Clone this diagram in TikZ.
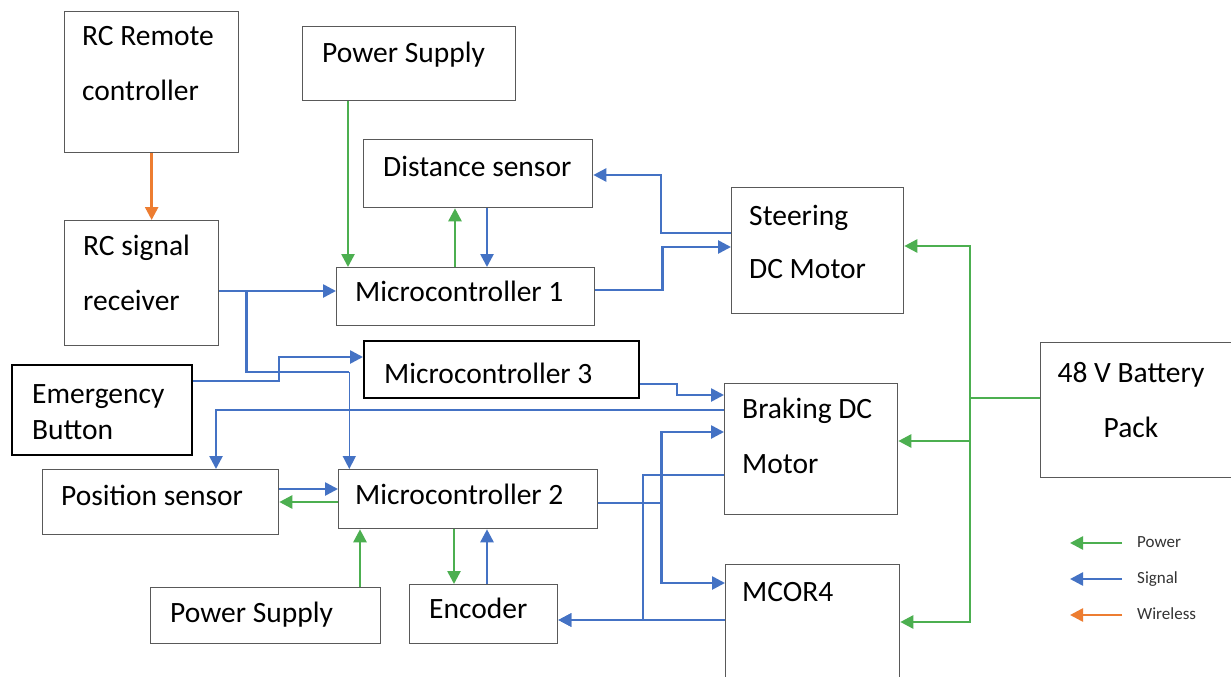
\documentclass[tikz,border=0pt]{standalone}
\usepackage{fontspec}
\setmainfont{Carlito}
\usepackage{xcolor}
\usepackage{tikz}
\usetikzlibrary{arrows.meta}

\definecolor{sigblue}{HTML}{4472C4}
\definecolor{pwrgreen}{HTML}{4CAF50}
\definecolor{wlorange}{HTML}{ED7D31}
\definecolor{boxgray}{HTML}{595959}
\newcommand{\boxfont}{\fontsize{29.5}{34}\selectfont}
\newcommand{\keyfont}{\fontsize{17}{20}\selectfont}

\begin{document}
\begin{tikzpicture}[
  x=1pt, y=-1pt,
  font=\boxfont,
  box/.style={draw=boxgray, line width=1.3pt, inner sep=0pt, anchor=north west},
  boxbold/.style={box, draw=black, line width=2pt},
  txt/.style={anchor=base west, inner sep=0pt},
  txtmid/.style={anchor=base, inner sep=0pt},
  keytxt/.style={anchor=west, inner sep=0pt, font=\keyfont, text=black!80,
                 text height=12pt, text depth=3pt},
  tip/.style={-{Triangle[length=13pt,width=13pt]}},
  sigline/.style={draw=sigblue, line width=2.6pt},
  sig/.style={sigline, tip},
  sigthin/.style={draw=sigblue, line width=1.5pt, tip},
  pwrline/.style={draw=pwrgreen, line width=2.6pt},
  pwr/.style={pwrline, tip},
  wless/.style={draw=wlorange, line width=2.6pt, tip},
]
\fill[white] (0,0) rectangle (1231,677);
\clip (0,0) rectangle (1231,677);
\useasboundingbox (0,0) rectangle (1231,677);

\node[box, minimum width=174, minimum height=141] (rc) at (64,11) {};
\node[box, minimum width=213, minimum height=74] (ps1) at (302,26) {};
\node[box, minimum width=229, minimum height=68] (dist) at (363,139) {};
\node[box, minimum width=172, minimum height=126] (steer) at (731,187) {};
\node[box, minimum width=154, minimum height=125] (rcrx) at (64,220) {};
\node[box, minimum width=258, minimum height=58] (mc1) at (336,267) {};
\node[boxbold, minimum width=275, minimum height=57] (mc3) at (363,340) {};
\node[boxbold, minimum width=180, minimum height=90] (emg) at (11,364) {};
\node[box, minimum width=173, minimum height=131] (brake) at (724,383) {};
\node[box, minimum width=200, minimum height=135] (batt) at (1040,342) {};
\node[box, minimum width=236, minimum height=65] (pos) at (42,469) {};
\node[box, minimum width=259, minimum height=59] (mc2) at (338,469) {};
\node[box, minimum width=230, minimum height=56] (ps2) at (150,587) {};
\node[box, minimum width=148, minimum height=59] (enc) at (409,584) {};
\node[box, minimum width=174, minimum height=126] (mcor) at (725,564) {};

\node[txt] (rc-a) at (82,46) {RC Remote};
\node[txt] (rc-b) at (82,100) {controller};
\node[txt] (ps1-a) at (322,63) {Power Supply};
\node[txt] (dist-a) at (383,176) {Distance sensor};
\node[txt] (steer-a) at (749,225) {Steering};
\node[txt] (steer-b) at (749,278) {DC Motor};
\node[txt] (rcrx-a) at (83,255) {RC signal};
\node[txt] (rcrx-b) at (83,310) {receiver};
\node[txt] (mc1-a) at (355,301) {Microcontroller 1};
\node[txt] (mc3-a) at (384,383) {Microcontroller 3};
\node[txt] (emg-a) at (32,403) {Emergency};
\node[txt] (emg-b) at (32,439) {Button};
\node[txt] (brake-a) at (742,418) {Braking DC};
\node[txt] (brake-b) at (742,473) {Motor};
\node[txtmid] (batt-a) at (1131,382) {48 V Battery};
\node[txtmid] (batt-b) at (1131,437) {Pack};
\node[txt] (pos-a) at (61,505) {Position sensor};
\node[txt] (mc2-a) at (355,504) {Microcontroller 2};
\node[txt] (ps2-a) at (170,622) {Power Supply};
\node[txt] (enc-a) at (429,618) {Encoder};
\node[txt] (mcor-a) at (742,601) {MCOR4};

\draw[wless] (rc.south) -- (rc.south |- rcrx.north);
\draw[pwr] ([xshift=46]ps1.south west) -- ([xshift=46]ps1.south west |- mc1.north);
\draw[pwr] ([xshift=119]mc1.north west) -- ([xshift=119]mc1.north west |- dist.south);
\draw[sig] ([xshift=124]dist.south west) -- ([xshift=124]dist.south west |- mc1.north);
\draw[sig] ([yshift=-46]steer.north west) -- ++(-70,0) |- ([yshift=-36]dist.north east);
\draw[sig] ([yshift=-23]mc1.north east) -- ++(67,0) |- ([yshift=-60]steer.north west);
\draw[sig] ([yshift=-71]rcrx.north east) -- ([yshift=-71]rcrx.north east -| mc1.west);
\draw[sigline] ([xshift=27,yshift=-71]rcrx.north east) |- ++(103,81) coordinate (rcbend);
\draw[sigthin] (rcbend) -- (rcbend |- mc2.north);
\draw[sig] ([yshift=-17]emg.north east) -- ++(86,0) |- ([yshift=-17]mc3.north west);
\draw[sig] ([yshift=-27]brake.north west) -| ([xshift=174]pos.north west);
\draw[sig] ([yshift=-44]mc3.north east) -- ++(37,0) |- ([yshift=-12]brake.north west);
\draw[sig] ([yshift=-34]mc2.north east) -- ++(63,0) |- ([yshift=-49]brake.north west);
\draw[sig] ([xshift=63,yshift=-34]mc2.north east) |- ([yshift=-19]mcor.north west);
\draw[sig] ([yshift=-92]brake.north west) -- ++(-81,0) |- ([yshift=-36]enc.north east);
\draw[sig] ([yshift=-56]mcor.north west) -- ([yshift=-36]enc.north east);
\draw[sig] ([yshift=-20]pos.north east) -- ([yshift=-20]pos.north east -| mc2.west);
\draw[pwr] ([yshift=-33]mc2.north west) -- ([yshift=-33]mc2.north west -| pos.east);
\draw[pwr] ([xshift=210]ps2.north west) -- ([xshift=210]ps2.north west |- mc2.south);
\draw[pwr] ([xshift=116]mc2.south west) -- ([xshift=116]mc2.south west |- enc.north);
\draw[sig] ([xshift=78]enc.north west) -- ([xshift=78]enc.north west |- mc2.south);
\draw[pwrline] ([yshift=-56]batt.north west) -- ++(-70,0) coordinate (bus);
\draw[pwr] (bus) |- ([yshift=-59]steer.north east);
\draw[pwr] (bus) |- ([yshift=-58]brake.north east);
\draw[pwr] (bus) |- ([yshift=-58]mcor.north east);

\node[keytxt] (key-pwr) at (1137,543) {Power};
\node[keytxt] (key-sig) at (1137,579) {Signal};
\node[keytxt] (key-wl) at (1137,615) {Wireless};
\draw[pwr] ([xshift=-15]key-pwr.west) -- ++(-52,0);
\draw[sig] ([xshift=-15]key-sig.west) -- ++(-52,0);
\draw[wless] ([xshift=-15]key-wl.west) -- ++(-52,0);
\end{tikzpicture}
\end{document}
